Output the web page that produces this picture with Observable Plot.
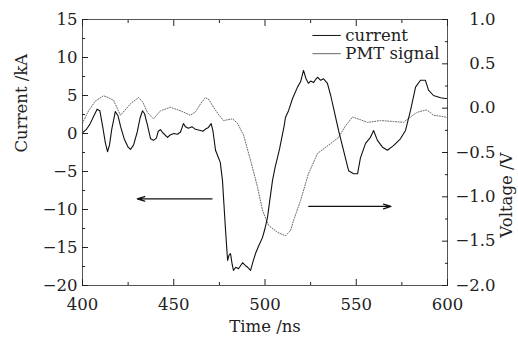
<!DOCTYPE html>
<html><head><meta charset="utf-8">
<script src="https://cdn.jsdelivr.net/npm/d3@7"></script>
<script src="https://cdn.jsdelivr.net/npm/@observablehq/plot@0.6"></script>
<style>body{margin:0;background:#fff}</style>
</head><body><div id="chart"></div>
<script>
// Current trace (time ns, current kA)
const currentT = [400,402,404,406,408,409.5,411,412.5,413.7,414.8,416,418,419.5,421,423,425,426.3,428,430,431.5,432.9,434,435.5,437.3,438.9,440.5,441.5,442.7,444,446.6,448,450,452,453.7,455.3,456.4,458,460,461.5,463,464.7,466,467.5,469,470.5,471.5,472.9,474.5,475.5,476.7,478.4,479.5,480.3,481.1,482,482.7,484,485.5,487.7,489.3,490.5,492.1,493.5,494.8,496.5,498.6,500,501.4,502.5,504.1,505.5,506.8,508,510.5,511.2,512.9,515.1,517.8,519.5,521.1,522.5,523.8,525,526.6,528,528.8,530.5,532.1,534.2,536,537.5,540.3,543,545.8,548.5,550.7,552.3,555.1,557.8,559.5,561.6,564.4,567.1,570.4,574.2,577,579.7,582.5,585.2,587.9,589.6,592.3,596.2,598.9,600];
const currentKA = [0.1,0.5,1.2,2.2,3.2,3.0,1.0,-1.2,-2.4,-1.5,0.5,2.9,2.3,0.8,-0.8,-1.8,-2.1,-1.5,0.2,2.0,3.0,2.6,1.2,-0.7,-0.9,-0.6,0.3,0.5,0.1,-0.5,-0.2,0.0,-0.1,0.2,1.3,0.9,0.7,0.9,0.6,0.5,0.4,0.3,0.6,0.8,1.3,0.3,-2.2,-3.2,-3.8,-6.2,-12.8,-16.7,-16.0,-15.8,-17.2,-18.0,-17.6,-17.8,-17.0,-17.4,-17.6,-18.0,-16.8,-15.8,-14.8,-13.7,-12.5,-11.0,-9.0,-6.2,-4.5,-3.2,-2.0,1.0,2.1,3.0,4.6,6.1,6.8,8.3,7.2,6.6,6.9,6.7,7.2,7.4,7.0,7.2,6.6,5.0,3.4,0.4,-2.2,-4.9,-5.3,-5.3,-3.2,-1.3,-0.5,0.4,-0.9,-1.8,-2.2,-1.6,-0.7,0.4,3.0,6.1,7.0,7.0,5.7,5.0,4.7,4.6,4.6];

// PMT signal (time ns, voltage V)
const pmtT = [400,403.3,407,411.5,414,417,419,420.8,423,426.3,430.7,433,435.6,438.9,442.7,448.2,453.7,459.2,462,464.7,467.4,469.5,471.8,474.5,477.3,482.2,484.9,488.2,492.1,495.9,498.6,501.9,506.8,511.2,514,515.6,519.5,523.8,528.8,535.9,540.3,544.1,547.9,552.3,556.2,563.3,570.4,575.9,579.7,583,586.3,588.5,590.7,592.3,596.2,598.9,600];
const pmtV = [-0.17,-0.03,0.08,0.14,0.12,0.09,0.0,-0.08,-0.03,0.05,0.12,0.07,-0.05,-0.12,-0.03,0.01,-0.03,-0.08,-0.04,0.05,0.12,0.09,0.01,-0.07,-0.14,-0.12,-0.17,-0.3,-0.59,-0.89,-1.15,-1.32,-1.40,-1.44,-1.38,-1.27,-1.04,-0.74,-0.51,-0.40,-0.33,-0.2,-0.1,-0.13,-0.16,-0.14,-0.15,-0.16,-0.1,-0.05,-0.03,-0.02,-0.05,-0.08,-0.09,-0.1,-0.11];

const xTicks = [400,450,500,550,600];
const xMinor = [425,475,525,575];
const yTicks = [-20,-15,-10,-5,0,5,10,15];
const yMinor = [-17.5,-12.5,-7.5,-2.5,2.5,7.5,12.5];
const vTicks = [-2.0,-1.5,-1.0,-0.5,0.0,0.5,1.0];
const vMinor = [-1.75,-1.25,-0.75,-0.25,0.25,0.75];

const legendLabels = ["current","PMT signal"];
const legendY = [12.9,10.5];
const legendX = [526,541.5,544];

// arrows: [x1, x2, y]
const arrowLeft = [471,430,-8.6];
const arrowRight = [524,569,-9.6];

const current = currentT.map((t,i)=>({t, i: currentKA[i]}));
const pmt = pmtT.map((t,i)=>({t, v: pmtV[i]}));
const vToI = v => (v + 2) * 35 / 3 - 20;
const iToV = i => Math.round(((i + 20) * 3 / 35 - 2) * 100) / 100 + 0;
const fmtV = d3.format(".1f");

const ink = "#222";
const chart = Plot.plot({
  width: 518, height: 338,
  marginLeft: 82, marginRight: 71, marginTop: 19, marginBottom: 53,
  style: {fontFamily: "'DejaVu Serif', serif", fontSize: "16.5px", background: "#fff", color: ink},
  x: {domain: [400, 600]},
  y: {domain: [-20, 15]},
  marks: [
    Plot.line(pmt, {x: "t", y: d => vToI(d.v), stroke: "#666", strokeWidth: 1, strokeDasharray: "1,1.6"}),
    Plot.line(current, {x: "t", y: "i", stroke: "#111", strokeWidth: 1.1}),
    Plot.frame({stroke: "#555", strokeWidth: 1}),
    // ticks (inward)
    Plot.axisX(xTicks, {anchor: "bottom", tickSize: -6, fill: "none", label: null}),
    Plot.axisX(xMinor, {anchor: "bottom", tickSize: -3, fill: "none", label: null}),
    Plot.axisX(xTicks, {anchor: "top", tickSize: -6, fill: "none", label: null}),
    Plot.axisX(xMinor, {anchor: "top", tickSize: -3, fill: "none", label: null}),
    Plot.axisY(yTicks, {anchor: "left", tickSize: -6, fill: "none", label: null}),
    Plot.axisY(yMinor, {anchor: "left", tickSize: -3, fill: "none", label: null}),
    Plot.axisY(vTicks.map(vToI), {anchor: "right", tickSize: -6, fill: "none", label: null}),
    Plot.axisY(vMinor.map(vToI), {anchor: "right", tickSize: -3, fill: "none", label: null}),
    // tick labels
    Plot.axisX(xTicks, {anchor: "bottom", tickSize: 0, tickPadding: 13, label: null}),
    Plot.axisY(yTicks, {anchor: "left", tickSize: 0, tickPadding: 5, label: null}),
    Plot.axisY(vTicks.map(vToI), {anchor: "right", tickSize: 0, tickPadding: 48, textAnchor: "end", label: null,
      tickFormat: d => fmtV(iToV(d))}),
    // axis titles
    Plot.text(["Time /ns"], {text: d => d, frameAnchor: "bottom", dy: 41, lineAnchor: "middle"}),
    Plot.text(["Current /kA"], {text: d => d, frameAnchor: "left", dx: -61, rotate: -90}),
    Plot.text(["Voltage /V"], {text: d => d, frameAnchor: "right", dx: 59, rotate: -90}),
    // legend
    Plot.link(legendLabels, {x1: legendX[0], x2: legendX[1], y1: (d,i) => legendY[i], y2: (d,i) => legendY[i],
      stroke: (d,i) => i === 0 ? "#111" : "#666", strokeDasharray: (d,i) => i === 0 ? null : "1,1.6", strokeWidth: 1}),
    Plot.text(legendLabels, {x: legendX[2], y: (d,i) => legendY[i], text: d => d, textAnchor: "start"}),
    // arrows
    Plot.arrow([arrowLeft, arrowRight], {x1: d => d[0], x2: d => d[1], y1: d => d[2], y2: d => d[2],
      stroke: "#111", strokeWidth: 1.3, headLength: 9, headAngle: 35})
  ]
});
document.getElementById("chart").appendChild(chart);
</script>
</body></html>
